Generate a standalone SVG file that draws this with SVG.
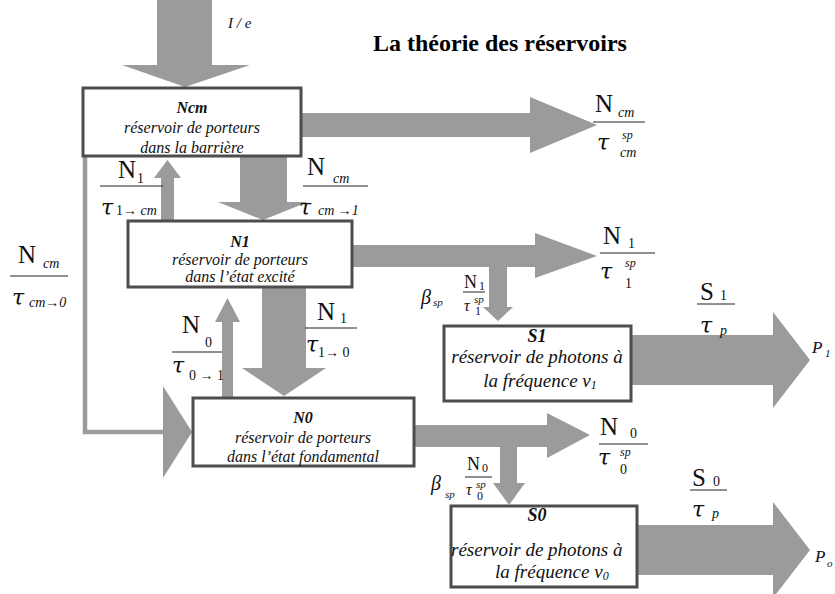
<svg xmlns="http://www.w3.org/2000/svg" width="835" height="594" viewBox="0 0 835 594">
<style>
.arr{fill:#9b9b9b}
.line{fill:none;stroke:#9b9b9b;stroke-width:4.5}
.box{fill:#fff;stroke:#4d4d4d;stroke-width:3}
.t{font-family:"Liberation Serif",serif;font-style:italic;font-size:16px;text-anchor:middle;fill:#111}
.ts{font-family:"Liberation Serif",serif;font-style:italic;font-size:19px;fill:#111}
.b{font-weight:bold}
.m{font-family:"Liberation Serif",serif;font-size:25px;fill:#111}
.mi{font-family:"DejaVu Serif",serif;font-style:italic;font-size:22px;fill:#111}
.s{font-family:"Liberation Serif",serif;font-style:italic;font-size:14px;fill:#111}
.d{font-family:"Liberation Serif",serif;font-size:14px;fill:#111}
.sm{font-family:"Liberation Serif",serif;font-size:18px;fill:#111}
.smi{font-family:"Liberation Serif",serif;font-style:italic;font-size:17px;fill:#111}
.xs{font-family:"Liberation Serif",serif;font-style:italic;font-size:11px;fill:#111}
.xd{font-family:"Liberation Serif",serif;font-size:12px;fill:#111}
.fl{stroke:#222;stroke-width:1}
</style>
<text x="373" y="51" style="font-family:'Liberation Serif',serif;font-weight:bold;font-size:24px;fill:#000">La théorie des réservoirs</text>
<g id="connectors">
<polygon class="arr" points="157,0 212,0 212,65 250,65 185,87 122,65 157,65"/>
<polygon class="arr" points="302,113 530,113 530,97 597,125 530,153 530,137 302,137"/>
<polygon class="arr" points="240,157 287,157 287,202 308,202 263,220 218,202 240,202"/>
<polygon class="arr" points="161,220 161,178 154,178 167.5,160 181,178 174,178 174,220"/>
<polygon class="arr" points="353,245 535,245 535,233 597,256 535,278 535,267 353,267"/>
<polygon class="arr" points="489,260 507,260 507,307 513,307 498,321 483,307 489,307"/>
<polygon class="arr" points="222,397 222,322 215,322 227.5,298 240,322 233,322 233,397"/>
<polygon class="arr" points="262,288 306,288 306,368 326,368 284,396 242,368 262,368"/>
<polyline class="line" points="85,157 85,432 165,432"/>
<polygon class="arr" points="163,386 192,432 163,478"/>
<polygon class="arr" points="415,425 547,425 547,413 590,435 547,458 547,447 415,447"/>
<polygon class="arr" points="500,440 517,440 517,483 525,483 509,505 493,483 500,483"/>
<polygon class="arr" points="632,335 773,335 773,312 810,360 773,408 773,385 632,385"/>
<polygon class="arr" points="638,525 773,525 773,502 810,550 773,598 773,575 638,575"/>
</g>
<g id="Ncm">
<rect class="box" x="83" y="88" width="218" height="68"/>
<text class="t b" x="192" y="113">Ncm</text>
<text class="t" x="192" y="133">réservoir de porteurs</text>
<text class="t" x="192" y="153">dans la barrière</text>
</g>
<g id="N1">
<rect class="box" x="128" y="221" width="224" height="66"/>
<text class="t b" x="240" y="247">N1</text>
<text class="t" x="240" y="265">réservoir de porteurs</text>
<text class="t" x="240" y="282">dans l’état excité</text>
</g>
<g id="N0">
<rect class="box" x="193" y="398" width="221" height="68"/>
<text class="t b" x="303" y="423">N0</text>
<text class="t" x="303" y="443">réservoir de porteurs</text>
<text class="t" x="303" y="462">dans l’état fondamental</text>
</g>
<g id="S1">
<rect class="box" x="444" y="326" width="187" height="75"/>
<text class="t b" x="537" y="342" style="font-size:18px">S1</text>
<text class="ts" x="537" y="363" text-anchor="middle">réservoir de photons à</text>
<text class="ts" x="540" y="387" text-anchor="middle">la fréquence ν<tspan class="xd" dy="2">1</tspan></text>
</g>
<g id="S0">
<rect class="box" x="451" y="506" width="186" height="81"/>
<text class="t b" x="537" y="521" style="font-size:18px">S0</text>
<text class="ts" x="451" y="556">réservoir de photons à</text>
<text class="ts" x="495" y="578">la fréquence ν<tspan class="xd" dy="2">0</tspan></text>
</g>
<g id="labels">
<text class="s" x="228" y="28" style="font-size:15px">I / e</text>
<text class="m" x="595" y="112">N</text><text class="s" x="618" y="117">cm</text>
<line class="fl" x1="593" y1="122" x2="645" y2="122"/>
<text class="mi" x="597" y="150">τ</text><text class="xs" x="622" y="139" style="font-size:12px">sp</text><text class="s" x="620" y="157">cm</text>
<text class="m" x="118" y="178">N</text><text class="d" x="137" y="183">1</text>
<line class="fl" x1="100" y1="186" x2="163" y2="186"/>
<text class="mi" x="101" y="215">τ</text><text class="d" x="116" y="215">1→ <tspan class="s">cm</tspan></text>
<text class="m" x="307" y="175">N</text><text class="s" x="333" y="183">cm</text>
<line class="fl" x1="303" y1="186" x2="368" y2="186"/>
<text class="mi" x="299" y="215">τ</text><text class="s" x="318" y="215">cm <tspan class="d">→1</tspan></text>
<text class="m" x="18" y="263">N</text><text class="s" x="43" y="268">cm</text>
<line class="fl" x1="10" y1="276" x2="68" y2="276"/>
<text class="mi" x="12" y="305">τ</text><text class="s" x="29" y="307">cm<tspan class="d">→0</tspan></text>
<text class="m" x="317" y="320">N</text><text class="d" x="340" y="323">1</text>
<line class="fl" x1="305" y1="328" x2="357" y2="328"/>
<text class="mi" x="306" y="352">τ</text><text class="d" x="318" y="357">1→ 0</text>
<text class="m" x="182" y="333">N</text><text class="d" x="205" y="347">0</text>
<line class="fl" x1="172" y1="352" x2="222" y2="352"/>
<text class="mi" x="172" y="373">τ</text><text class="d" x="189" y="380">0 → 1</text>
<text class="m" x="603" y="244">N</text><text class="d" x="628" y="248">1</text>
<line class="fl" x1="600" y1="253" x2="655" y2="253"/>
<text class="mi" x="600" y="279">τ</text><text class="xs" x="625" y="267" style="font-size:12px">sp</text><text class="d" x="625" y="288">1</text>
<text class="m" x="600" y="435">N</text><text class="d" x="630" y="438">0</text>
<line class="fl" x1="599" y1="444" x2="648" y2="444"/>
<text class="mi" x="598" y="465">τ</text><text class="xs" x="620" y="456" style="font-size:12px">sp</text><text class="d" x="620" y="474">0</text>
<text class="m" x="700" y="300">S</text><text class="d" x="720" y="300">1</text>
<line class="fl" x1="697" y1="304" x2="735" y2="304"/>
<text class="mi" x="700" y="333">τ</text><text class="s" x="720" y="335">p</text>
<text class="m" x="692" y="486">S</text><text class="d" x="713" y="486">0</text>
<line class="fl" x1="690" y1="490" x2="727" y2="490"/>
<text class="mi" x="692" y="517">τ</text><text class="s" x="712" y="518">p</text>
<text class="smi" x="421" y="304" style="font-size:20px">β</text><text class="xs" x="433" y="306">sp</text>
<text class="sm" x="464" y="288">N</text><text class="xd" x="479" y="290">1</text>
<line class="fl" x1="463" y1="292" x2="485" y2="292"/>
<text class="smi" x="464" y="311" style="font-size:16px">τ</text><text class="xs" x="474" y="303">sp</text><text class="xd" x="475" y="315">1</text>
<text class="smi" x="431" y="490" style="font-size:20px">β</text><text class="xs" x="445" y="498">sp</text>
<text class="sm" x="467" y="470">N</text><text class="xd" x="482" y="472">0</text>
<line class="fl" x1="465" y1="477" x2="492" y2="477"/>
<text class="smi" x="466" y="495" style="font-size:16px">τ</text><text class="xs" x="476" y="488">sp</text><text class="xd" x="477" y="500">0</text>
<text class="smi" x="812" y="353">P</text><text class="xs" x="825" y="357">1</text>
<text class="smi" x="815" y="562">P</text><text class="xs" x="827" y="567">o</text>
</g>
</svg>
